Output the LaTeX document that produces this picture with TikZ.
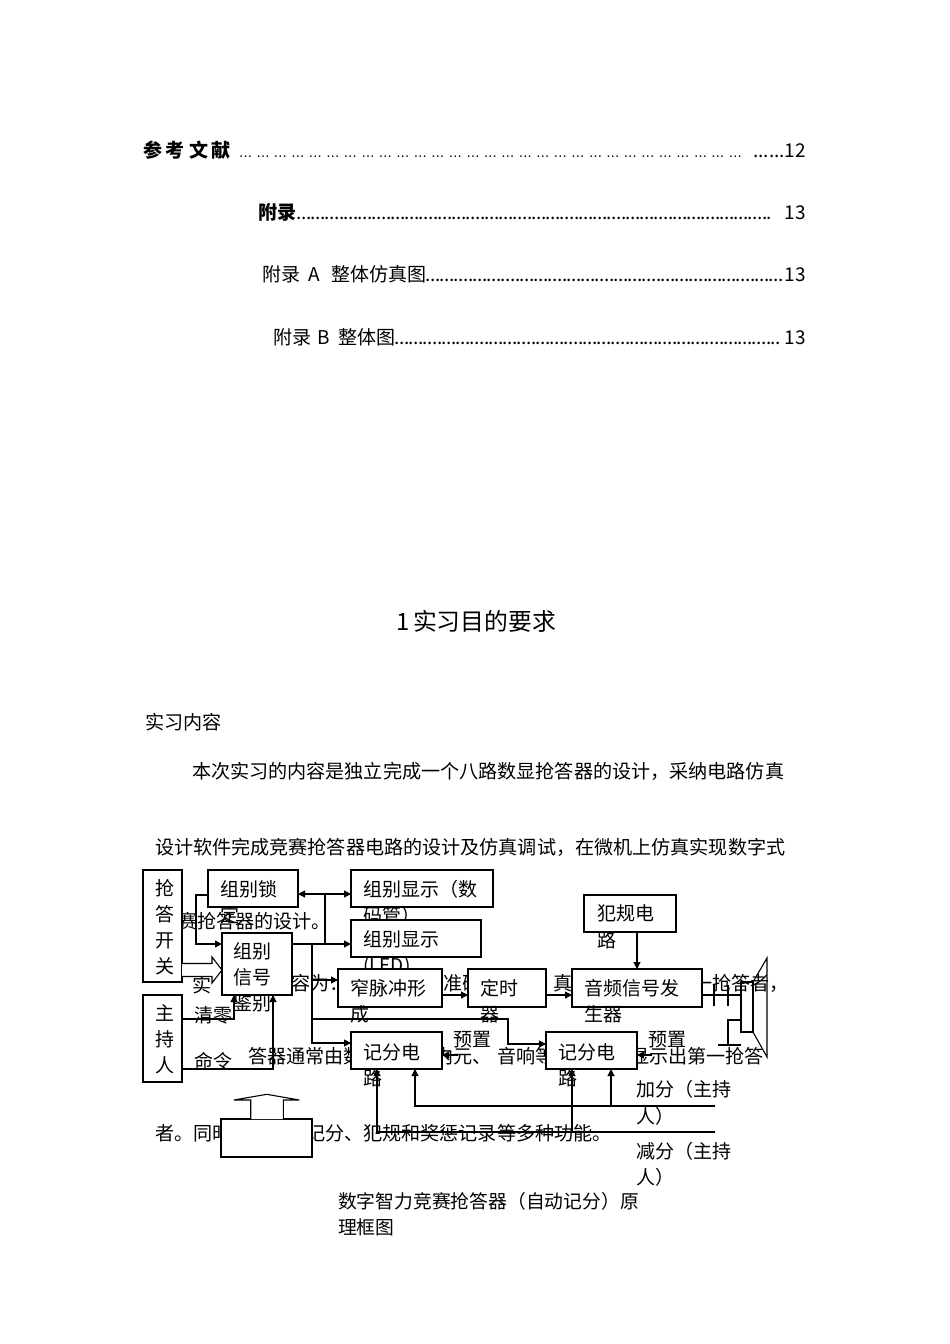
\documentclass[tikz,border=0pt]{standalone}
\usepackage{fontspec}
\setmainfont{Noto Sans CJK SC}
\newfontfamily\ellfont{DejaVu Sans}
\usetikzlibrary{arrows.meta}
\tikzset{
  box/.style={draw, fill=white, line width=1.1pt, inner sep=0pt, outer sep=0pt, anchor=north west},
  txt/.style={anchor=base west, inner sep=0pt, outer sep=0pt, font=\fontsize{19}{19}\selectfont},
  btxt/.style={anchor=base west, inner sep=0pt, outer sep=0pt, font=\fontsize{19.1}{19}\selectfont},
  rtxt/.style={anchor=base east, inner sep=0pt, outer sep=0pt, font=\fontsize{19}{19}\selectfont},
  wire/.style={line width=1.1pt},
  arr/.style={wire, -{Triangle[length=7pt,width=7pt]}},
  blk/.style={line width=1.1pt, fill=white, line join=miter}
}
\newcommand{\dotlead}[1]{\makebox[#1][l]{\leaders\hbox to 4.7pt{\hss.\hss}\hfill}}
\newcommand{\elllead}[1]{\makebox[#1][l]{\leaders\hbox to 17.5pt{\ellfont\fontsize{13}{13}\selectfont …\hss}\hfill}}
\begin{document}
\begin{tikzpicture}[x=1pt,y=-1pt]
\fill[white] (0,0) rectangle (950,1344);
\useasboundingbox (0,0) rectangle (950,1344);

% ---------- table of contents ----------
\node[txt] (toc1) at (143,157) {\bfseries 参\kern4pt 考\kern4pt 文\kern4pt 献};
\node[txt] (toc1d) at (239,157) {\elllead{510pt}};
\node[rtxt] (toc1n) at (806,157) {......12};
\node[txt] (toc2) at (258,219) {\bfseries 附录};
\node[txt] (toc2d) at (297,219) {\dotlead{478pt}};
\node[rtxt] (toc2n) at (806,219) {13};
\node[txt] (toc3a) at (262,281) {附录};
\node[txt] (toc3b) at (308,281) {A};
\node[txt] (toc3c) at (331,281) {整体仿真图};
\node[txt] (toc3d) at (426,281) {\dotlead{358pt}};
\node[rtxt] (toc3n) at (806,281) {13};
\node[txt] (toc4a) at (273,344) {附录};
\node[txt] (toc4b) at (317,344) {B};
\node[txt] (toc4c) at (338,344) {整体图};
\node[txt] (toc4d) at (395,344) {\dotlead{389pt}};
\node[rtxt] (toc4n) at (806,344) {13};

% ---------- headings and body text ----------
\node[txt, font=\fontsize{23.8}{24}\selectfont] (t1) at (396,630) {1};
\node[txt, font=\fontsize{23.8}{24}\selectfont] (t2) at (413,630) {实习目的要求};
\node[btxt] (h1) at (145,729) {实习内容};
\node[btxt] (p1) at (192,778) {本次实习的内容是独立完成一个八路数显抢答器的设计，采纳电路仿真};
\node[btxt] (p2) at (155,854) {设计软件完成竞赛抢答器电路的设计及仿真调试，在微机上仿真实现数字式};
\node[btxt] (p3) at (178,928) {赛抢答器的设计。};
\node[btxt] (p4a) at (192,992) {实};
\node[btxt] (p4b) at (291,990) {容为：};
\node[btxt] (p4c) at (443,990) {准确};
\node[btxt] (p4d) at (553,990) {真};
\node[btxt] (p4e) at (693,990) {一抢答者，};
\node[btxt] (p5a) at (248,1063) {答器通常由数};
\node[btxt] (p5b) at (434,1063) {内元、};
\node[btxt] (p5c) at (497,1063) {音响等};
\node[btxt] (p5d) at (630,1063) {显示出第一抢答};
\node[btxt] (p6a) at (155,1140) {者。同时};
\node[btxt] (p6b) at (306,1140) {记分、犯规和奖惩记录等多种功能。};

% ---------- coordinates ----------
\coordinate (J1) at (325,894);
\coordinate (J2) at (312,944);
\coordinate (A1) at (715,1106);
\coordinate (B1) at (715,1132);
\coordinate (spk) at (741,995);

% ---------- wires ----------
\draw[arr] (208,895) -- (196,895) |- (222,944);
\draw[arr] (292,944) -- (351,944);
\draw[wire] (J1) -- (J1 |- J2);
\draw[arr] (J1) -- (298,894);
\draw[arr] (J1) -- (351,894);
\draw[arr] (J2) |- (351,1043);
\draw[arr] (312,980) -- (338,980);
\draw[arr] (442,995) -- (468,995);
\draw[arr] (546,995) -- (572,995);
\draw[arr] (637,932) -- (637,969);
\draw[wire] (702,995) -- (spk);
\draw[arr] (312,1019) -| (508,1044) -- (546,1044);
\draw[arr] (182,1019) -| (234,995);
\draw[arr] (182,1069) -| (273,995);
\draw[arr] (458,1055) -- (442,1055);
\draw[arr] (652,1055) -- (637,1055);
\draw[arr] (A1) -| (415,1069);
\draw[arr] (611,1106) -- (611,1069);
\draw[arr] (B1) -| (377,1069);
\draw[arr] (572,1132) -- (572,1069);

% ---------- blocks ----------
\node[box, minimum width=39pt, minimum height=112pt] (qd) at (143,870) {};
\foreach \c/\yy in {抢/895, 答/921, 开/947, 关/973} \node[txt] at (155,\yy) {\c};
\node[box, minimum width=39pt, minimum height=87pt] (zcr) at (143,995) {};
\foreach \c/\yy in {主/1020, 持/1046, 人/1072} \node[txt] at (155,\yy) {\c};

\node[box, minimum width=90pt, minimum height=37pt] (suo) at (208,870) {};
\node[txt] (suo1) at (220,896) {组别锁};
\node[txt] (suo2) at (220,922) {定};

\node[box, minimum width=142pt, minimum height=37pt] (shu) at (351,870) {};
\node[txt] (shu1) at (363,896) {组别显示（数};
\node[txt] (shu2) at (363,922) {码管）};

\node[box, minimum width=130pt, minimum height=37pt] (led) at (351,920) {};
\node[txt] (led1) at (363,946) {组别显示};
\node[txt] (led2) at (363,972) {(LED)};

\node[box, minimum width=70pt, minimum height=62pt] (xh) at (222,933) {};
\node[txt] (xh1) at (233,958) {组别};
\node[txt] (xh2) at (233,984) {信号};
\node[txt] (xh3) at (233,1010) {鉴别};

\node[box, minimum width=104pt, minimum height=38pt] (zmc) at (338,969) {};
\node[txt] (zmc1) at (350,995) {窄脉冲形};
\node[txt] (zmc2) at (350,1021) {成};

\node[box, minimum width=78pt, minimum height=38pt] (ds) at (468,969) {};
\node[txt] (ds1) at (480,995) {定时};
\node[txt] (ds2) at (480,1021) {器};

\node[box, minimum width=130pt, minimum height=38pt] (yp) at (572,969) {};
\node[txt] (yp1) at (584,995) {音频信号发};
\node[txt] (yp2) at (584,1021) {生器};

\node[box, minimum width=92pt, minimum height=37pt] (fg) at (584,895) {};
\node[txt] (fg1) at (597,920) {犯规电};
\node[txt] (fg2) at (597,947) {路};

\node[box, minimum width=91pt, minimum height=37pt] (jfL) at (351,1032) {};
\node[txt] (jfL1) at (363,1059) {记分电};
\node[txt] (jfL2) at (363,1085) {路};

\node[box, minimum width=91pt, minimum height=37pt] (jfR) at (546,1032) {};
\node[txt] (jfR1) at (558,1059) {记分电};
\node[txt] (jfR2) at (558,1085) {路};

\node[box, minimum width=91pt, minimum height=38pt] (bot) at (221,1119) {};

% block arrows
\draw[blk] (182,963.5) -- (212,963.5) -- (212,957) -- (222,970) -- (212,983) -- (212,976.5) -- (182,976.5);
\draw[blk] (250.7,1119) -- (250.7,1100) -- (234,1100) -- (266.7,1094.3) -- (299.3,1100) -- (283.3,1100) -- (283.3,1119);

% speaker
\draw[wire] (741,982) rectangle (753,1032);
\draw[wire] (753,982) -- (767,958) -- (767,1057) -- (753,1032);
\draw[wire] (714,985) -- (714,1006);
\draw[wire] (728,985) -- (728,1006);
\draw[wire] (741,1020) -- (728,1020) -- (728,1045);
\draw[wire] (718,1045) -- (741,1045);

% labels
\node[txt] (lq) at (194,1022) {清零};
\node[txt] (lm) at (194,1068) {命令};
\node[txt] (ly1) at (453,1046) {预置};
\node[txt] (ly2) at (648,1046) {预置};
\node[txt] (lj1) at (636,1096) {加分（主持};
\node[txt] (lj2) at (636,1123) {人）};
\node[txt] (lk1) at (636,1158) {减分（主持};
\node[txt] (lk2) at (636,1184) {人）};

% caption
\node[txt, font=\fontsize{18.8}{19}\selectfont] (cap1) at (338,1208) {数字智力竞赛抢答器（自动记分）原};
\node[txt, font=\fontsize{18.8}{19}\selectfont] (cap2) at (338,1234) {理框图};
\end{tikzpicture}
\end{document}
